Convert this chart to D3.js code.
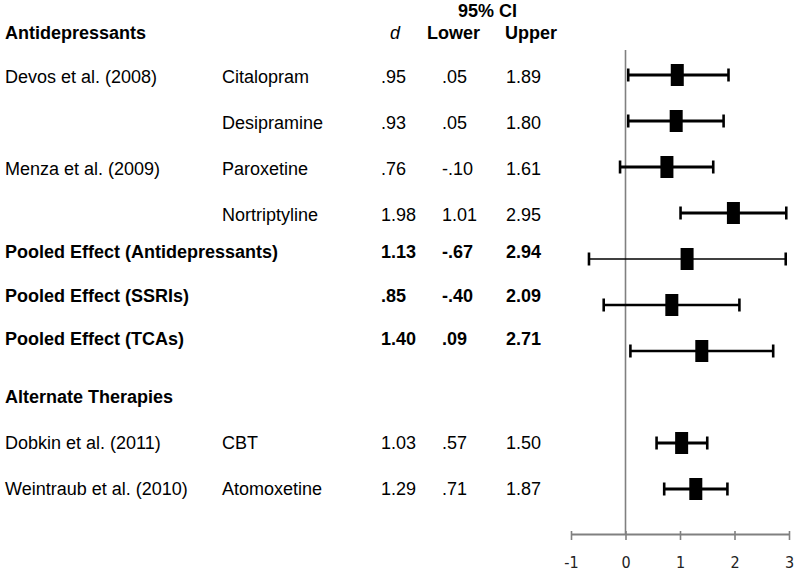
<!DOCTYPE html>
<html>
<head>
<meta charset="utf-8">
<script src="https://cdn.jsdelivr.net/npm/d3@7"></script>
<style>
  html, body { margin: 0; padding: 0; background: #fff; }
  svg { display: block; font-family: "Liberation Sans", Arial, sans-serif; }
</style>
</head>
<body>
<svg id="chart" width="797" height="574"></svg>
<script>
// ---- data ----
const studyLabels = ["Devos et al. (2008)", "", "Menza et al. (2009)", "",
  "Pooled Effect (Antidepressants)", "Pooled Effect (SSRIs)", "Pooled Effect (TCAs)",
  "Alternate Therapies", "Dobkin et al. (2011)", "Weintraub et al. (2010)"];
const treatments = ["Citalopram", "Desipramine", "Paroxetine", "Nortriptyline",
  "", "", "", "", "CBT", "Atomoxetine"];
const rowKinds = ["study", "study", "study", "study",
  "pooled", "pooled", "pooled", "header", "study", "study"];
const dValues = [0.95, 0.93, 0.76, 1.98, 1.13, 0.85, 1.40, null, 1.03, 1.29];
const lowerCI = [0.05, 0.05, -0.10, 1.01, -0.67, -0.40, 0.09, null, 0.57, 0.71];
const upperCI = [1.89, 1.80, 1.61, 2.95, 2.94, 2.09, 2.71, null, 1.50, 1.87];
const axisTicks = [-1, 0, 1, 2, 3];
const sectionTitle = "Antidepressants";
const columnHeaders = ["d", "Lower", "Upper"];
const ciHeader = "95% CI";

const rows = studyLabels.map((s, i) => ({
  i, study: s, treatment: treatments[i], kind: rowKinds[i],
  d: dValues[i], lo: lowerCI[i], hi: upperCI[i]
}));

const svg = d3.select("#chart");

// ---- scales ----
const x = d3.scaleLinear().domain([-1, 3]).range([571, 789]);
const yBar = d3.scalePoint().domain(d3.range(rows.length)).range([75, 489]);
// table rows: the pooled block sits slightly higher in the table than in the plot
const yText = d3.scaleLinear().domain([0, 3, 4, 6, 7, 9]).range([77, 215, 252, 339, 397, 489]);

const fmt = v => d3.format(".2f")(v).replace(/^([-\u2212]?)0\./, "$1.").replace("\u2212", "-");

// ---- table header ----
const FS = 18;
svg.append("text").attr("x", 458).attr("y", 17).attr("font-size", FS)
  .attr("font-weight", "bold").text(ciHeader);
svg.append("text").attr("x", 5).attr("y", 39).attr("font-size", FS)
  .attr("font-weight", "bold").text(sectionTitle);
const headerX = [390, 427, 505];
columnHeaders.forEach((h, k) => {
  svg.append("text").attr("x", headerX[k]).attr("y", 39).attr("font-size", FS)
    .attr("font-weight", k === 0 ? "normal" : "bold")
    .attr("font-style", k === 0 ? "italic" : "normal")
    .text(h);
});

// ---- table rows ----
const colX = { study: 5, treatment: 222, d: 381, lo: 442, hi: 506 };
const tg = svg.append("g").attr("fill", "#000");
rows.forEach(r => {
  const yy = yText(r.i);
  const bold = r.kind !== "study" ? "bold" : "normal";
  const add = (xx, txt) => tg.append("text").attr("x", xx).attr("y", yy)
    .attr("dy", "0.35em").attr("font-size", FS).attr("font-weight", bold).text(txt);
  if (r.study) add(colX.study, r.study);
  if (r.treatment) add(colX.treatment, r.treatment);
  if (r.d != null) {
    add(colX.d, fmt(r.d));
    add(colX.lo, fmt(r.lo));
    add(colX.hi, fmt(r.hi));
  }
});

// ---- zero line ----
svg.append("line").attr("x1", x(0)).attr("x2", x(0)).attr("y1", 50).attr("y2", 534)
  .attr("stroke", "#808080").attr("stroke-width", 1.6);

// ---- axis ----
const axisY = 534;
const axis = d3.axisBottom(x).tickValues(axisTicks).tickFormat(d => String(d))
  .tickSize(6).tickSizeOuter(0);
const ag = svg.append("g").attr("transform", `translate(0,${axisY})`).call(axis);
ag.select(".domain").attr("stroke", "#808080").attr("stroke-width", 2);
ag.selectAll(".tick line").attr("stroke", "#808080").attr("stroke-width", 1.6).attr("y1", -3);
ag.selectAll(".tick text")
  .attr("font-family", "'DejaVu Sans Condensed', 'DejaVu Sans', sans-serif")
  .attr("font-stretch", "condensed")
  .attr("font-size", 16).attr("fill", "#222")
  .attr("y", 28).attr("dy", "0.35em");

// ---- error bars and squares ----
const dataRows = rows.filter(r => r.d != null);
const lineW = r => r.study === "Pooled Effect (Antidepressants)" ? 1.6 : (r.kind === "pooled" ? 2.6 : 3);
const pg = svg.append("g");
dataRows.forEach(r => {
  const yy = yBar(r.i);
  const w = lineW(r);
  pg.append("line").attr("x1", x(r.lo)).attr("x2", x(r.hi)).attr("y1", yy).attr("y2", yy)
    .attr("stroke", "#000").attr("stroke-width", w);
  [r.lo, r.hi].forEach(v => {
    pg.append("line").attr("x1", x(v)).attr("x2", x(v)).attr("y1", yy - 6.5).attr("y2", yy + 6.5)
      .attr("stroke", "#000").attr("stroke-width", 2.6);
  });
  pg.append("rect").attr("x", x(r.d) - 6.5).attr("y", yy - 11).attr("width", 13).attr("height", 22)
    .attr("fill", "#000");
});
</script>
</body>
</html>
